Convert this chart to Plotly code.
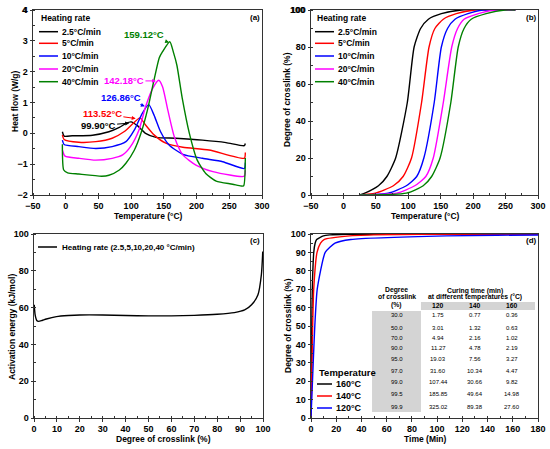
import plotly.graph_objects as go

W, H = 550, 449

# ---------------- (a) DSC heat flow ----------------
rates = ['2.5°C/min', '5°C/min', '10°C/min', '20°C/min', '40°C/min']
rate_colors = ['black', 'red', 'blue', 'magenta', '#008000']
peak_temps = [99.90, 113.52, 126.86, 142.18, 159.12]

hf_t_2p5 = [-5.1, -2.5, 10, 41, 66, 82, 92, 99.9, 110, 122, 138, 168, 209, 245, 273, 274.5]
hf_2p5 = [0.05, -0.09, -0.08, -0.06, 0.05, 0.19, 0.32, 0.37, 0.24, 0.0, -0.13, -0.16, -0.22, -0.30, -0.40, -0.33]

hf_t_5 = [-5.1, -2.5, 20, 46, 71, 89, 102, 113.5, 122, 135, 153, 179, 219, 273, 274.5]
hf_5 = [-0.05, -0.2, -0.29, -0.27, -0.16, 0.05, 0.3, 0.5, 0.27, -0.05, -0.32, -0.45, -0.54, -0.81, -0.62]

hf_t_10 = [-5.1, -2.5, 20, 46, 71, 92, 105, 117, 126.9, 135, 145, 158, 179, 209, 240, 273, 274.5]
hf_10 = [-0.22, -0.36, -0.43, -0.49, -0.43, -0.27, 0.11, 0.65, 0.93, 0.59, 0.05, -0.38, -0.68, -0.81, -0.92, -1.14, -0.95]

hf_t_20 = [-5.1, -1, 20, 46, 71, 87, 99, 112, 122, 133, 142.2, 148, 156, 166, 179, 199, 225, 273, 274.5]
hf_20 = [-0.54, -0.74, -0.81, -0.87, -0.81, -0.70, -0.43, 0.11, 0.86, 1.46, 1.72, 1.51, 0.76, -0.11, -0.70, -1.03, -1.24, -1.39, -1.2]

hf_t_40 = [-5.1, -3, 3, 20, 55, 66, 82, 92, 105, 115, 125, 135, 143, 148, 159.1, 165, 170, 178, 189, 201, 214, 230, 255, 268, 272, 274.5]
hf_40 = [-0.35, -1.19, -1.28, -1.32, -1.39, -1.36, -1.19, -0.97, -0.54, 0.0, 0.76, 1.73, 2.45, 2.65, 2.97, 2.6, 2.2, 1.15, 0.0, -0.87, -1.3, -1.55, -1.65, -1.71, -1.7, -0.8]

# ---------------- (b) degree of crosslink vs temperature ----------------
conv_b = [0, 1, 5, 10, 20, 50, 80, 90, 95, 98, 100, 100]
temp_b_2p5 = [25, 33, 54, 67, 80.5, 98.5, 109, 119, 131, 151, 182, 265]
temp_b_5 = [25, 49, 77, 92, 105, 120.5, 132, 141, 154, 174, 202, 265]
temp_b_10 = [25, 69, 97, 113, 124, 140, 151, 160.5, 172, 192, 215, 265]
temp_b_20 = [25, 82, 110, 127, 138.5, 154, 167, 176, 186, 208, 233, 265]
temp_b_40 = [25, 97, 123, 136, 149, 165.6, 177, 186, 197, 220, 249, 265]

# ---------------- (c) activation energy ----------------
conv_c = [0.1, 0.5, 1.2, 2, 3.5, 5.4, 9.8, 15, 20, 30, 40, 50, 60, 70, 80, 87.5, 92, 95, 97.8, 99.3, 99.9]
ea_c = [61.5, 56, 53, 52.5, 53, 53.8, 55.1, 55.7, 56, 56, 55.7, 55.5, 55.5, 55.8, 56.4, 57.3, 58.7, 61.5, 67, 78, 90.5]

# ---------------- (d) isothermal curing ----------------
iso_temps = ['160°C', '140°C', '120°C']
iso_colors = ['black', 'red', 'blue']
degree_d = [30.0, 50.0, 70.0, 90.0, 95.0, 97.0, 99.0, 99.5, 99.9]
time_120 = [1.75, 3.01, 4.94, 11.27, 19.03, 31.60, 107.44, 185.85, 325.02]
time_140 = [0.77, 1.32, 2.16, 4.78, 7.56, 10.34, 30.66, 49.64, 89.38]
time_160 = [0.36, 0.63, 1.02, 2.19, 3.27, 4.47, 9.82, 14.98, 27.60]
curve_start = (0, 0)
curve_end = (400, 100)

FONT = 'Liberation Sans'


def px(x):
    return x / W


def py(y):
    return 1 - y / H


fig = go.Figure()

# (a)
for t, v, c in zip([hf_t_2p5, hf_t_5, hf_t_10, hf_t_20, hf_t_40],
                   [hf_2p5, hf_5, hf_10, hf_20, hf_40], rate_colors):
    fig.add_trace(go.Scatter(x=t, y=v, mode='lines', xaxis='x', yaxis='y',
                             line=dict(color=c, width=1.4, shape='spline', smoothing=0.6),
                             showlegend=False))

# (b)
for t, c in zip([temp_b_2p5, temp_b_5, temp_b_10, temp_b_20, temp_b_40], rate_colors):
    fig.add_trace(go.Scatter(x=t, y=conv_b, mode='lines', xaxis='x2', yaxis='y2',
                             line=dict(color=c, width=1.4, shape='spline', smoothing=0.6),
                             showlegend=False))

# (c)
fig.add_trace(go.Scatter(x=conv_c, y=ea_c, mode='lines', xaxis='x3', yaxis='y3',
                         line=dict(color='black', width=1.4, shape='spline', smoothing=0.6),
                         showlegend=False))

# (d)
for t, c in zip([time_160, time_140, time_120], iso_colors):
    xs = [curve_start[0]] + t + [curve_end[0]]
    ys = [curve_start[1]] + degree_d + [curve_end[1]]
    fig.add_trace(go.Scatter(x=xs, y=ys, mode='lines', xaxis='x4', yaxis='y4',
                             line=dict(color=c, width=1.4, shape='spline', smoothing=0.5),
                             showlegend=False))

tickfont = dict(family=FONT, size=9, color='black', weight='bold')


def axis(dom, anchor, rng, dtick, minor):
    return dict(domain=dom, anchor=anchor, range=rng, dtick=dtick, tick0=0,
                showline=True, mirror=True, linecolor='#333', linewidth=1,
                ticks='outside', ticklen=2.5, tickwidth=1, tickcolor='#333',
                minor=dict(dtick=minor, tick0=0, ticks='inside', ticklen=2, tickcolor='#333'),
                showgrid=False, zeroline=False, tickfont=tickfont, fixedrange=True,
                automargin=False, ticklabeloverflow='allow')


fig.update_layout(
    template='none',
    width=W, height=H, margin=dict(l=0, r=0, t=0, b=0, pad=0),
    paper_bgcolor='white', plot_bgcolor='white',
    xaxis=axis([px(33), px(262)], 'y', [-50, 300], 50, 25),
    yaxis=axis([py(195), py(10)], 'x', [-2, 4], 1, 0.5),
    xaxis2=axis([px(311), px(538)], 'y2', [-50, 300], 50, 25),
    yaxis2=axis([py(195), py(10)], 'x2', [0, 100], 20, 10),
    xaxis3=axis([px(34), px(263)], 'y3', [0, 100], 10, 5),
    yaxis3=axis([py(418), py(234)], 'x3', [0, 100], 20, 10),
    xaxis4=axis([px(311), px(538)], 'y4', [0, 180], 20, 10),
    yaxis4=axis([py(418), py(234)], 'x4', [0, 100], 10, 5),
)


def note(x, y, text, size=8.5, color='black', bold=True, angle=0, xanchor='center', xref='paper', yref='paper'):
    fig.add_annotation(x=x, y=y, xref=xref, yref=yref, text=text, showarrow=False,
                       xanchor=xanchor, yanchor='middle', textangle=angle,
                       font=dict(family=FONT, size=size, color=color,
                                 weight='bold' if bold else 'normal'))


# top tick labels of (a) and (b) sit at the page edge, plotly drops them
note(px(28.5), py(10), '4', size=9, xanchor='right')
note(px(306.5), py(10), '100', size=9, xanchor='right')

# axis titles
note(px(15), py(101), 'Heat flow (W/g)', angle=-90)
note(px(148), py(216), 'Temperature (°C)')
note(px(287), py(100), 'Degree of crosslink (%)', angle=-90)
note(px(425), py(216), 'Temperature (°C)')
note(px(12), py(327), 'Activation energy (kJ/mol)', angle=-90)
note(px(163), py(439), 'Degree of crosslink (%)')
note(px(288), py(326), 'Degree of crosslink (%)', angle=-90)
note(px(425), py(439), 'Time (Min)')

# panel labels
note(px(255), py(18), '(a)', size=8)
note(px(531), py(18), '(b)', size=8)
note(px(255), py(240), '(c)', size=8)
note(px(531), py(240), '(d)', size=8)


def legend_line(x0, x1, y, color):
    fig.add_shape(type='line', xref='paper', yref='paper', x0=px(x0), x1=px(x1),
                  y0=py(y), y1=py(y), line=dict(color=color, width=1.5))


# legends (a), (b)
entry_y = [31.7, 43.3, 56, 69, 81.7]
for lx in (39, 315):
    note(px(lx), py(18), 'Heating rate', xanchor='left')
    for r, c, yy in zip(rates, rate_colors, entry_y):
        legend_line(lx, lx + 19, yy, c)
        note(px(lx + 21), py(yy), r, xanchor='left')

# legend (c)
legend_line(38, 57, 247, 'black')
note(px(60), py(247), 'Heating rate (2.5,5,10,20,40 °C/min)', size=8, xanchor='left')

# legend (d)
note(px(317), py(372), 'Temperature', size=9.5, xanchor='left')
for r, c, yy in zip(iso_temps, iso_colors, [384, 396, 408]):
    legend_line(317, 332, yy, c)
    note(px(334), py(yy), r, size=9, xanchor='left')

# peak labels in (a)
tips = [(97, 0.33), (107, 0.48), (121, 0.88), (138, 1.70), (158, 2.95)]
tails = [(49.5, 0.25), (56, 0.63), (84, 1.16), (89, 1.70), (120, 3.21)]
for p, c, (hx, hy), (tx, ty) in zip(peak_temps, rate_colors, tips, tails):
    fig.add_annotation(x=hx, y=hy, ax=tx, ay=ty, xref='x', yref='y', axref='x', ayref='y',
                       text=f'{p:.2f}°C', showarrow=True, arrowhead=2, arrowsize=0.8,
                       arrowwidth=1, arrowcolor=c, standoff=0,
                       font=dict(family=FONT, size=9.5, color=c, weight='bold'))

# table in (d)
gray = '#d4d4d4'
fig.add_shape(type='rect', xref='x4', yref='y4', x0=87.2, x1=177.6, y0=58.7, y1=63.0,
              fillcolor=gray, line=dict(width=0), layer='below')
fig.add_shape(type='rect', xref='x4', yref='y4', x0=48.4, x1=87.2, y0=3.3, y1=58.2,
              fillcolor=gray, line=dict(width=0), layer='below')

hdr = dict(xref='x4', yref='y4', size=6.8)
note(68, 69.6, 'Degree', **hdr)
note(68, 66.3, 'of crosslink', **hdr)
note(68, 61.4, '(%)', **hdr)
note(130, 69.2, 'Curing time (min)', **hdr)
note(130, 65.9, 'at different temperatures (°C)', **hdr)
col_x = [101, 130, 159]
for cx, lab in zip(col_x, ['120', '140', '160']):
    note(cx, 60.9, lab, **hdr)

row_y = [56, 48.8, 43.6, 38.2, 32.1, 25.7, 19.4, 12.9, 6.1]
for i, yy in enumerate(row_y):
    note(68, yy, f'{degree_d[i]:.1f}', xref='x4', yref='y4', size=6, bold=False)
    for cx, tl in zip(col_x, [time_120, time_140, time_160]):
        note(cx, yy, f'{tl[i]:.2f}', xref='x4', yref='y4', size=6, bold=False)

# drop the default page margin so the figure sits at the window's corner
fig.write_html("out.html", config={'displayModeBar': False},
               post_script="document.body.style.margin = '0px';")
